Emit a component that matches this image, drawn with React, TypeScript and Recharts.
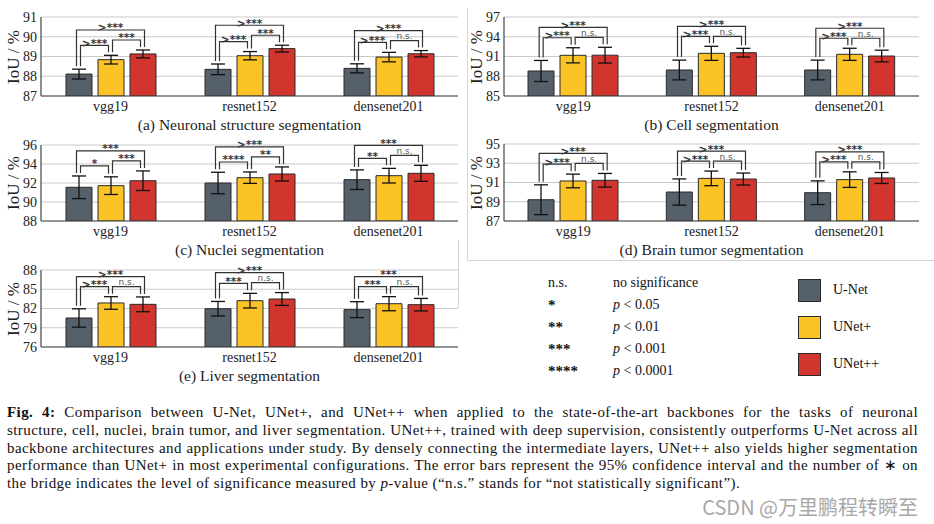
import React from 'react'
import { BarChart, Bar, XAxis, YAxis, CartesianGrid, ErrorBar, ReferenceLine } from 'recharts'

const backbones = ['vgg19', 'resnet152', 'densenet201']
const seriesNames = ['U-Net', 'UNet+', 'UNet++']
const seriesColors = ['#55606a', '#fbc326', '#d2342e']

// (a) neuronal structure
const neuronalUNet = [88.11, 88.35, 88.4]
const neuronalUNetErr = [0.25, 0.27, 0.23]
const neuronalUNetP = [88.84, 89.04, 88.97]
const neuronalUNetPErr = [0.22, 0.21, 0.24]
const neuronalUNetPP = [89.13, 89.4, 89.14]
const neuronalUNetPPErr = [0.2, 0.17, 0.16]
const neuronalTicks = [87, 88, 89, 90, 91]
// per backbone: [U-Net vs UNet+, UNet+ vs UNet++, U-Net vs UNet++]
const neuronalSig = [['>***', '***', '>***'], ['>***', '***', '>***'], ['>***', 'n.s.', '>***']]

// (b) cell
const cellUNet = [88.8, 88.95, 88.95]
const cellUNetErr = [1.6, 1.5, 1.5]
const cellUNetP = [91.18, 91.48, 91.33]
const cellUNetPErr = [1.15, 1.07, 0.92]
const cellUNetPP = [91.2, 91.58, 91.07]
const cellUNetPPErr = [1.2, 0.66, 0.89]
const cellTicks = [85, 88, 91, 94, 97]
const cellSig = [['>***', 'n.s.', '>***'], ['>***', 'n.s.', '>***'], ['>***', 'n.s.', '>***']]

// (c) nuclei
const nucleiUNet = [91.55, 92.0, 92.35]
const nucleiUNetErr = [1.19, 1.13, 1.03]
const nucleiUNetP = [91.72, 92.56, 92.77]
const nucleiUNetPErr = [0.93, 0.6, 0.77]
const nucleiUNetPP = [92.24, 92.95, 93.02]
const nucleiUNetPPErr = [1.03, 0.74, 0.84]
const nucleiTicks = [88, 90, 92, 94, 96]
const nucleiSig = [['*', '***', '***'], ['****', '**', '>***'], ['**', 'n.s.', '***']]

// (d) brain tumor
const brainUNet = [89.21, 90.01, 89.94]
const brainUNetErr = [1.55, 1.36, 1.23]
const brainUNetP = [91.16, 91.43, 91.3]
const brainUNetPErr = [0.71, 0.76, 0.81]
const brainUNetPP = [91.23, 91.36, 91.47]
const brainUNetPPErr = [0.71, 0.62, 0.57]
const brainTicks = [87, 89, 91, 93, 95]
const brainSig = [['>***', 'n.s.', '>***'], ['>***', 'n.s.', '>***'], ['>***', 'n.s.', '>***']]

// (e) liver
const liverUNet = [80.52, 81.97, 81.82]
const liverUNetErr = [1.43, 1.13, 1.24]
const liverUNetP = [82.86, 83.22, 82.75]
const liverUNetPErr = [0.98, 1.14, 1.1]
const liverUNetPP = [82.65, 83.48, 82.6]
const liverUNetPPErr = [1.15, 1.0, 0.97]
const liverTicks = [76, 79, 82, 85, 88]
const liverSig = [['>***', 'n.s.', '>***'], ['***', 'n.s.', '>***'], ['***', 'n.s.', '***']]

const sigLegend = [
  ['n.s.', 'no significance'],
  ['*', '0.05'],
  ['**', '0.01'],
  ['***', '0.001'],
  ['****', '0.0001'],
]

const captionLines = [
  'Comparison between U-Net, UNet+, and UNet++ when applied to the state-of-the-art backbones for the tasks of neuronal',
  'structure, cell, nuclei, brain tumor, and liver segmentation. UNet++, trained with deep supervision, consistently outperforms U-Net across all',
  'backbone architectures and applications under study. By densely connecting the intermediate layers, UNet++ also yields higher segmentation',
  'performance than UNet+ in most experimental configurations. The error bars represent the 95% confidence interval and the number of \u2217 on',
]

const SERIF = '"Liberation Serif", "Times New Roman", serif'
const BAR = 26
const GAP = 6
const MARGIN_TOP = 17
const X_AXIS_H = 26

interface PanelProps {
  title: string
  left: number
  top: number
  width: number
  yAxisWidth: number
  marginRight: number
  plotH: number
  ticks: number[]
  unet: number[]
  unetErr: number[]
  unetP: number[]
  unetPErr: number[]
  unetPP: number[]
  unetPPErr: number[]
  sig: string[][]
}

// draws a significance bridge; (x1, y1) is the middle bar's centre at the bridge height
function bridgeShape(dx1: number, dx2: number, foot1: number, foot2: number, label: string) {
  return (props: any) => {
    const { x1, y1 } = props
    if (x1 == null || Number.isNaN(x1)) return <g />
    const xa = x1 + dx1
    const xb = x1 + dx2
    const ns = label === 'n.s.'
    return (
      <g>
        <path d={`M${xa},${y1 + foot1}V${y1}H${xb}V${y1 + foot2}`} fill="none" stroke="#333" strokeWidth={1.2} />
        <text x={(xa + xb) / 2} y={ns ? y1 - 1.5 : y1 + 1.5} textAnchor="middle"
          fill={ns ? '#555' : '#333'} fontSize={ns ? 9 : 10.5} fontWeight={ns ? 'normal' : 'bold'}
          fontFamily='"DejaVu Sans", sans-serif'>{label}</text>
      </g>
    )
  }
}

function Panel(p: PanelProps) {
  const data = backbones.map((name, i) => ({
    name,
    unet: p.unet[i],
    unetErr: p.unetErr[i],
    unetP: p.unetP[i],
    unetPErr: p.unetPErr[i],
    unetPP: p.unetPP[i],
    unetPPErr: p.unetPPErr[i],
  }))
  const yMin = p.ticks[0]
  const yMax = p.ticks[p.ticks.length - 1]
  const ppu = p.plotH / (yMax - yMin)
  const plotW = p.width - p.yAxisWidth - p.marginRight
  const height = MARGIN_TOP + p.plotH + X_AXIS_H
  const step = BAR + GAP

  const bridges: any[] = []
  data.forEach((d, i) => {
    const tops = [d.unet + d.unetErr, d.unetP + d.unetPErr, d.unetPP + d.unetPPErr]
    const yGY = Math.max(tops[0], tops[1]) + 10 / ppu
    const yYR = Math.max(tops[1], tops[2]) + 10 / ppu
    const yGR = Math.max(yGY, yYR) + 10 / ppu
    // leg length in px down to 3px above each error bar
    const leg = (y: number, k: number) => (y - tops[k]) * ppu - 3
    const specs = [
      { y: yGY, dx1: -step + 2, dx2: -2, f1: leg(yGY, 0), f2: leg(yGY, 1), label: p.sig[i][0] },
      { y: yYR, dx1: 2, dx2: step - 2, f1: leg(yYR, 1), f2: leg(yYR, 2), label: p.sig[i][1] },
      { y: yGR, dx1: -step - 2, dx2: step + 2, f1: leg(yGR, 0), f2: leg(yGR, 2), label: p.sig[i][2] },
    ]
    specs.forEach((s, j) => {
      bridges.push(
        <ReferenceLine key={`${i}-${j}`} ifOverflow="visible"
          segment={[{ x: d.name, y: s.y }, { x: d.name, y: s.y }]}
          shape={bridgeShape(s.dx1, s.dx2, s.f1, s.f2, s.label)} />,
      )
    })
  })

  const plotLeft = p.left + p.yAxisWidth
  const plotCenterY = p.top + MARGIN_TOP + p.plotH / 2

  return (
    <>
      <div style={{ position: 'absolute', left: p.left, top: p.top }}>
        <BarChart width={p.width} height={height} data={data} barGap={GAP}
          margin={{ top: MARGIN_TOP, right: p.marginRight, bottom: 0, left: 0 }}>
          <CartesianGrid vertical={false} stroke="#c9c9c9" strokeWidth={1.2} />
          <XAxis dataKey="name" height={X_AXIS_H} interval={0} tickLine={false} tickSize={3} tickMargin={2}
            axisLine={{ stroke: '#444', strokeWidth: 1.2 }}
            tick={{ fill: '#222', fontSize: 14, fontFamily: SERIF }} />
          <YAxis domain={[yMin, yMax]} ticks={p.ticks} width={p.yAxisWidth} interval={0} allowDataOverflow
            tickLine={false} tickSize={2} tickMargin={2}
            axisLine={{ stroke: '#444', strokeWidth: 1.2 }}
            tick={{ fill: '#222', fontSize: 14, fontFamily: SERIF }} />
          <Bar dataKey="unet" barSize={BAR} fill={seriesColors[0]} stroke="#2a2a2a" strokeWidth={1} isAnimationActive={false}>
            <ErrorBar dataKey="unetErr" width={7} stroke="#111" strokeWidth={1.3} />
          </Bar>
          <Bar dataKey="unetP" barSize={BAR} fill={seriesColors[1]} stroke="#2a2a2a" strokeWidth={1} isAnimationActive={false}>
            <ErrorBar dataKey="unetPErr" width={7} stroke="#111" strokeWidth={1.3} />
          </Bar>
          <Bar dataKey="unetPP" barSize={BAR} fill={seriesColors[2]} stroke="#2a2a2a" strokeWidth={1} isAnimationActive={false}>
            <ErrorBar dataKey="unetPPErr" width={7} stroke="#111" strokeWidth={1.3} />
          </Bar>
          {bridges}
        </BarChart>
      </div>
      {/* y axis title */}
      <div style={{
        position: 'absolute', left: p.left + (p.left ? 12 : 14) - 40, top: plotCenterY - 10, width: 80, height: 20,
        lineHeight: '20px', textAlign: 'center', fontSize: 17, fontFamily: SERIF, color: '#222',
        transform: 'rotate(-90deg)',
      }}>IoU / %</div>
      {/* panel title */}
      <div style={{
        position: 'absolute', left: plotLeft, width: plotW, top: p.top + MARGIN_TOP + p.plotH + 20, height: 18,
        lineHeight: '18px', textAlign: 'center', fontSize: 15.5, fontFamily: SERIF, color: '#222',
      }}>{p.title}</div>
    </>
  )
}

export default function App() {
  return (
    <div style={{
      position: 'absolute', left: 0, top: 0, width: 934, height: 524, background: '#fff',
      overflow: 'hidden', fontFamily: SERIF, color: '#111',
    }}>
      {/* frame lines */}
      <div style={{ position: 'absolute', left: 467, top: 8, width: 1, height: 252, background: '#d6d6d6' }} />
      <div style={{ position: 'absolute', left: 467, top: 260, width: 467, height: 1, background: '#d6d6d6' }} />
      <div style={{ position: 'absolute', left: 458, top: 240, width: 1, height: 68, background: '#d6d6d6' }} />

      <Panel title="(a) Neuronal structure segmentation" left={0} top={0} width={465} yAxisWidth={41} marginRight={7} plotH={79}
        ticks={neuronalTicks} unet={neuronalUNet} unetErr={neuronalUNetErr} unetP={neuronalUNetP} unetPErr={neuronalUNetPErr}
        unetPP={neuronalUNetPP} unetPPErr={neuronalUNetPPErr} sig={neuronalSig} />
      <Panel title="(b) Cell segmentation" left={465} top={0} width={469} yAxisWidth={39} marginRight={15} plotH={79}
        ticks={cellTicks} unet={cellUNet} unetErr={cellUNetErr} unetP={cellUNetP} unetPErr={cellUNetPErr}
        unetPP={cellUNetPP} unetPPErr={cellUNetPPErr} sig={cellSig} />
      <Panel title="(c) Nuclei segmentation" left={0} top={128} width={465} yAxisWidth={41} marginRight={7} plotH={76}
        ticks={nucleiTicks} unet={nucleiUNet} unetErr={nucleiUNetErr} unetP={nucleiUNetP} unetPErr={nucleiUNetPErr}
        unetPP={nucleiUNetPP} unetPPErr={nucleiUNetPPErr} sig={nucleiSig} />
      <Panel title="(d) Brain tumor segmentation" left={465} top={127} width={469} yAxisWidth={39} marginRight={15} plotH={77}
        ticks={brainTicks} unet={brainUNet} unetErr={brainUNetErr} unetP={brainUNetP} unetPErr={brainUNetPErr}
        unetPP={brainUNetPP} unetPPErr={brainUNetPPErr} sig={brainSig} />
      <Panel title="(e) Liver segmentation" left={0} top={253} width={465} yAxisWidth={41} marginRight={7} plotH={77}
        ticks={liverTicks} unet={liverUNet} unetErr={liverUNetErr} unetP={liverUNetP} unetPErr={liverUNetPErr}
        unetPP={liverUNetPP} unetPPErr={liverUNetPPErr} sig={liverSig} />

      {/* significance legend */}
      {sigLegend.map(([sym, desc], i) => (
        <React.Fragment key={sym}>
          <div style={{
            position: 'absolute', left: 548, top: 274 + i * 22, height: 18, lineHeight: '18px',
            fontSize: i === 0 ? 14 : 15, fontWeight: i === 0 ? 'normal' : 'bold',
          }}>{sym}</div>
          <div style={{ position: 'absolute', left: 613, top: 274 + i * 22, height: 18, lineHeight: '18px', fontSize: 14 }}>
            {i === 0 ? desc : <><i>p</i> &lt; {desc}</>}
          </div>
        </React.Fragment>
      ))}

      {/* series legend */}
      {seriesNames.map((name, i) => (
        <React.Fragment key={name}>
          <div style={{
            position: 'absolute', left: 798, top: 279 + i * 37, width: 21, height: 21,
            background: seriesColors[i], border: '1px solid #2a2a2a',
          }} />
          <div style={{ position: 'absolute', left: 833, top: 281 + i * 37, height: 18, lineHeight: '18px', fontSize: 14 }}>{name}</div>
        </React.Fragment>
      ))}

      {/* caption */}
      <div style={{
        position: 'absolute', left: 7, top: 404, width: 911, fontSize: 15, letterSpacing: '0.42px',
        lineHeight: '17.8px', color: '#111',
      }}>
        {captionLines.map((line, i) => (
          <div key={i} style={{ textAlign: 'justify', textAlignLast: 'justify', whiteSpace: 'nowrap' }}>
            {i === 0 ? <><b>Fig. 4:</b> {line}</> : line}
          </div>
        ))}
        <div>
          the bridge indicates the level of significance measured by <i>p</i>-value (“n.s.” stands for “not statistically significant”).
        </div>
      </div>

      <div style={{
        position: 'absolute', right: 16, top: 494, height: 26, lineHeight: '26px', fontSize: 20,
        fontFamily: '"Noto Sans CJK SC", "Noto Sans", sans-serif', color: '#a8a8a8',
      }}>CSDN @万里鹏程转瞬至</div>
    </div>
  )
}
